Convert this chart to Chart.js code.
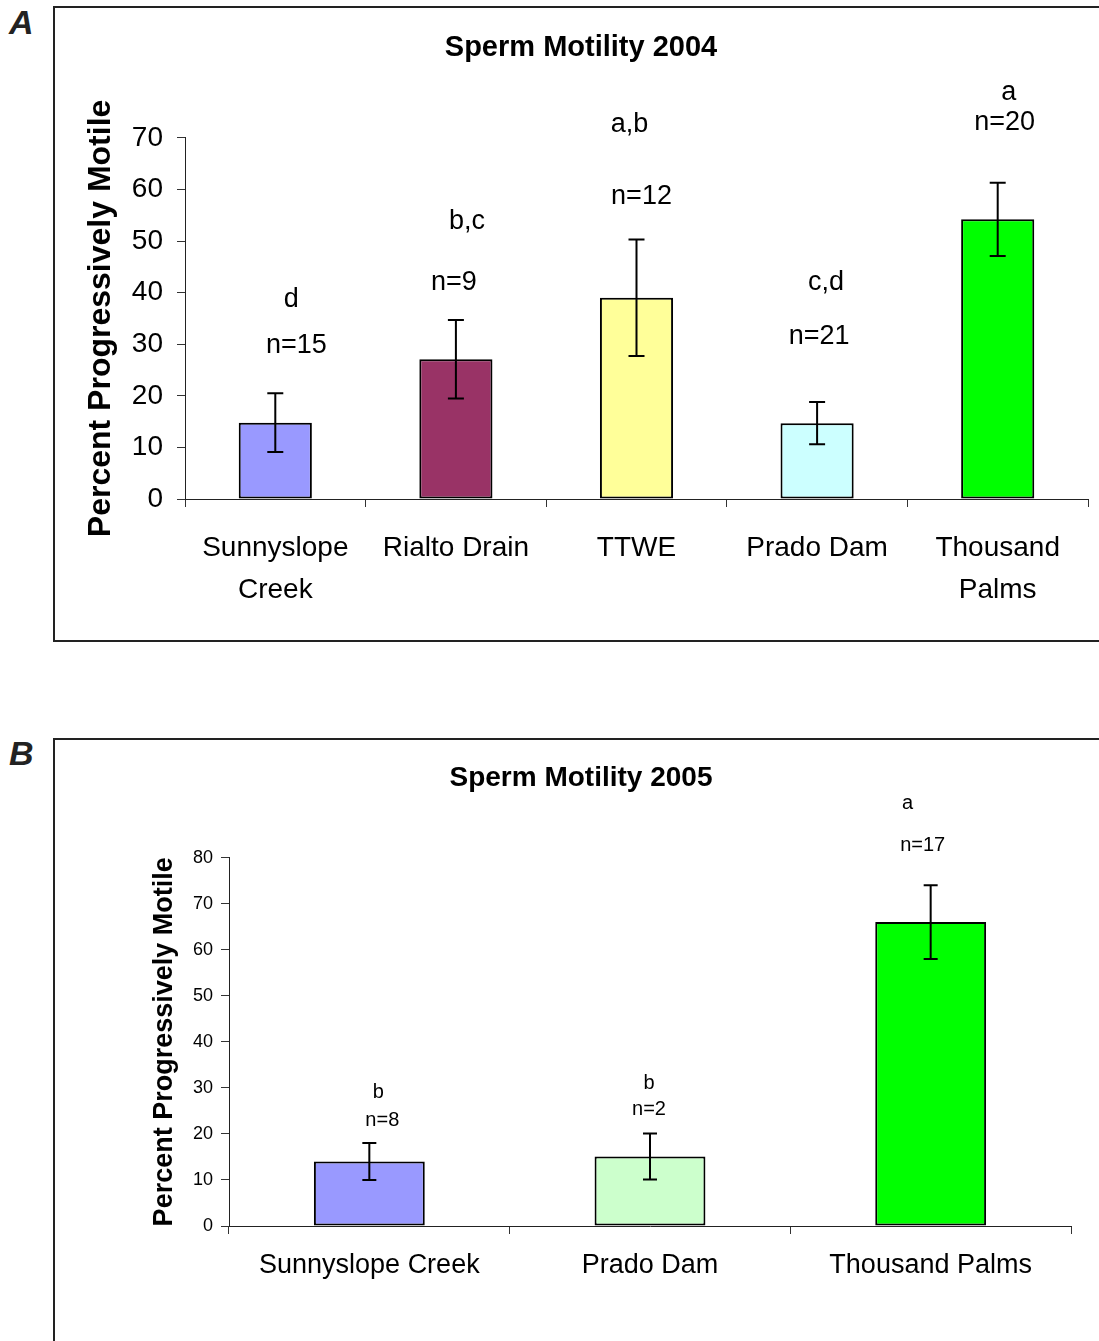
<!DOCTYPE html>
<html>
<head>
<meta charset="utf-8">
<script src="https://cdn.jsdelivr.net/npm/chart.js"></script>
<style>
  body { margin: 0; background: #fff; width: 1099px; height: 1341px; overflow: hidden; position: relative; }
  .box { position: absolute; left: 53px; width: 1100px; border: 2px solid #222; box-sizing: border-box; }
  #boxA { top: 6px; height: 636px; }
  #boxB { top: 738px; height: 700px; }
  .tag { position: absolute; left: 9px; font: italic bold 34px "Liberation Sans", sans-serif; color: #222; }
  canvas { position: absolute; left: 0; }
</style>
</head>
<body>
<div class="box" id="boxA"></div>
<div class="box" id="boxB"></div>
<div class="tag" style="top:3px">A</div>
<div class="tag" style="top:734px">B</div>
<canvas id="chartA" width="1099" height="650" style="top:0"></canvas>
<canvas id="chartB" width="1099" height="601" style="top:740px"></canvas>

<script>
/* ── data, 2004 ─────────────────────────────────────────── */
const sites2004   = [['Sunnyslope', 'Creek'], 'Rialto Drain', 'TTWE', 'Prado Dam', ['Thousand', 'Palms']];
const motile2004  = [14.8, 27.1, 39.0, 14.7, 54.2];
const err2004     = [5.7, 7.6, 11.3, 4.1, 7.1];
const groups2004  = ['d', 'b,c', 'a,b', 'c,d', 'a'];
const n2004       = [15, 9, 12, 21, 20];
const groupY2004  = [38.6, 53.7, 72.5, 41.9, 78.7];   // label heights, in % units
const nY2004      = [29.7, 41.9, 58.6, 31.4, 72.9];

/* ── data, 2005 ─────────────────────────────────────────── */
const sites2005   = ['Sunnyslope Creek', 'Prado Dam', 'Thousand Palms'];
const motile2005  = [14.0, 15.1, 66.0];
const err2005     = [4.0, 5.0, 8.0];
const groups2005  = ['b', 'b', 'a'];
const n2005       = [8, 2, 17];
const groupY2005  = [28.9, 30.9, 91.7];
const nY2005      = [23.0, 25.2, 82.6];

const SANS = '"Liberation Sans", Arial, sans-serif';

/* error bars drawn through the y scale */
const errBarPlugin = {
    id: 'errBars',
    afterDatasetsDraw(chart, args, opts) {
        const { ctx, scales: { y } } = chart;
        const vals = chart.data.datasets[0].data;
        ctx.save();
        ctx.strokeStyle = '#000';
        ctx.lineWidth = opts.width;
        chart.getDatasetMeta(0).data.forEach((bar, i) => {
            const e = opts.errors[i];
            const top = y.getPixelForValue(vals[i] + e);
            const bot = y.getPixelForValue(vals[i] - e);
            ctx.beginPath();
            ctx.moveTo(bar.x, top); ctx.lineTo(bar.x, bot);
            ctx.moveTo(bar.x - opts.cap, top); ctx.lineTo(bar.x + opts.cap, top);
            ctx.moveTo(bar.x - opts.cap, bot); ctx.lineTo(bar.x + opts.cap, bot);
            ctx.stroke();
        });
        ctx.restore();
    }
};

/* significance letters and sample sizes above bars */
const labelPlugin = {
    id: 'groupLabels',
    afterDraw(chart, args, opts) {
        const { ctx, scales: { y } } = chart;
        ctx.save();
        ctx.fillStyle = '#000';
        ctx.font = opts.font;
        ctx.textAlign = 'center';
        ctx.textBaseline = 'middle';
        chart.getDatasetMeta(0).data.forEach((bar, i) => {
            ctx.fillText(opts.groups[i], bar.x + opts.dxG[i], y.getPixelForValue(opts.groupY[i]));
            ctx.fillText('n=' + opts.n[i], bar.x + opts.dxN[i], y.getPixelForValue(opts.nY[i]));
        });
        ctx.restore();
    }
};

function makeChart(id, c) {
    return new Chart(document.getElementById(id), {
        type: 'bar',
        data: {
            labels: c.labels,
            datasets: [{
                data: c.values,
                backgroundColor: c.colors,
                borderColor: '#000',
                borderWidth: 2,
                borderSkipped: false,
                barPercentage: c.barPct,
                categoryPercentage: 1
            }]
        },
        options: {
            responsive: false,
            animation: false,
            devicePixelRatio: 1,
            layout: { padding: { left: c.padLeft, right: c.padRight, top: 0, bottom: 0 } },
            plugins: {
                legend: { display: false },
                tooltip: { enabled: false },
                title: {
                    display: true, text: c.title, color: '#000',
                    font: { family: SANS, size: c.titleSize, weight: 'bold', lineHeight: 1.2 },
                    padding: { top: c.titleTop, bottom: c.titleBottom }
                },
                errBars: { errors: c.errors, cap: c.cap, width: 2 },
                groupLabels: { groups: c.groups, n: c.n, groupY: c.groupY, nY: c.nY, font: c.labelFont, dxG: c.dxG, dxN: c.dxN }
            },
            scales: {
                x: {
                    grid: { display: true, drawOnChartArea: false, offset: true, tickLength: 8, color: '#333' },
                    border: { color: '#222', width: 1 },
                    ticks: { color: '#000', font: c.xFont, padding: c.xPad, maxRotation: 0, autoSkip: false },
                    afterFit(s) { s.height = c.xHeight; }
                },
                y: {
                    min: 0, max: c.yMax,
                    ticks: { stepSize: 10, color: '#000', font: c.yFont, padding: c.yPad },
                    grid: { drawOnChartArea: false, tickLength: 8, color: '#333' },
                    border: { color: '#222', width: 1 },
                    title: {
                        display: true, text: 'Percent Progressively Motile', color: '#000',
                        font: { family: SANS, size: c.yTitleSize, weight: 'bold', lineHeight: 1.2 },
                        padding: { top: c.yTitlePad, bottom: 0 }
                    },
                    afterFit(s) { s.width = c.yWidth; }
                }
            }
        },
        plugins: [errBarPlugin, labelPlugin]
    });
}

makeChart('chartA', {
    labels: sites2004, values: motile2004, errors: err2004,
    groups: groups2004, n: n2004, groupY: groupY2004, nY: nY2004,
    colors: ['#9999ff', '#993366', '#ffff99', '#ccffff', '#00ff00'],
    title: 'Sperm Motility 2004', titleSize: 29, titleTop: 31, titleBottom: 72,
    padLeft: 74, padRight: 11, yWidth: 111, xHeight: 151, yMax: 70,
    yTitleSize: 32, yTitlePad: 8,
    yFont: { family: SANS, size: 28, lineHeight: 1.2 }, yPad: 14,
    xFont: { family: SANS, size: 28, lineHeight: 1.5 }, xPad: 20,
    labelFont: '27px ' + SANS,
    dxG: [16, 11, -7, 9, 11], dxN: [21, -2, 5, 2, 7],
    barPct: 0.405, cap: 8
});

makeChart('chartB', {
    labels: sites2005, values: motile2005, errors: err2005,
    groups: groups2005, n: n2005, groupY: groupY2005, nY: nY2005,
    colors: ['#9999ff', '#ccffcc', '#00ff00'],
    title: 'Sperm Motility 2005', titleSize: 28, titleTop: 21, titleBottom: 63,
    padLeft: 91, padRight: 28, yWidth: 138, xHeight: 115, yMax: 80,
    yTitleSize: 27, yTitlePad: 57,
    yFont: { family: SANS, size: 18, lineHeight: 1.2 }, yPad: 8,
    xFont: { family: SANS, size: 27, lineHeight: 1.2 }, xPad: 15,
    labelFont: '20px ' + SANS,
    dxG: [9, -1, -23], dxN: [13, -1, -8],
    barPct: 0.395, cap: 7
});
</script>
</body>
</html>
